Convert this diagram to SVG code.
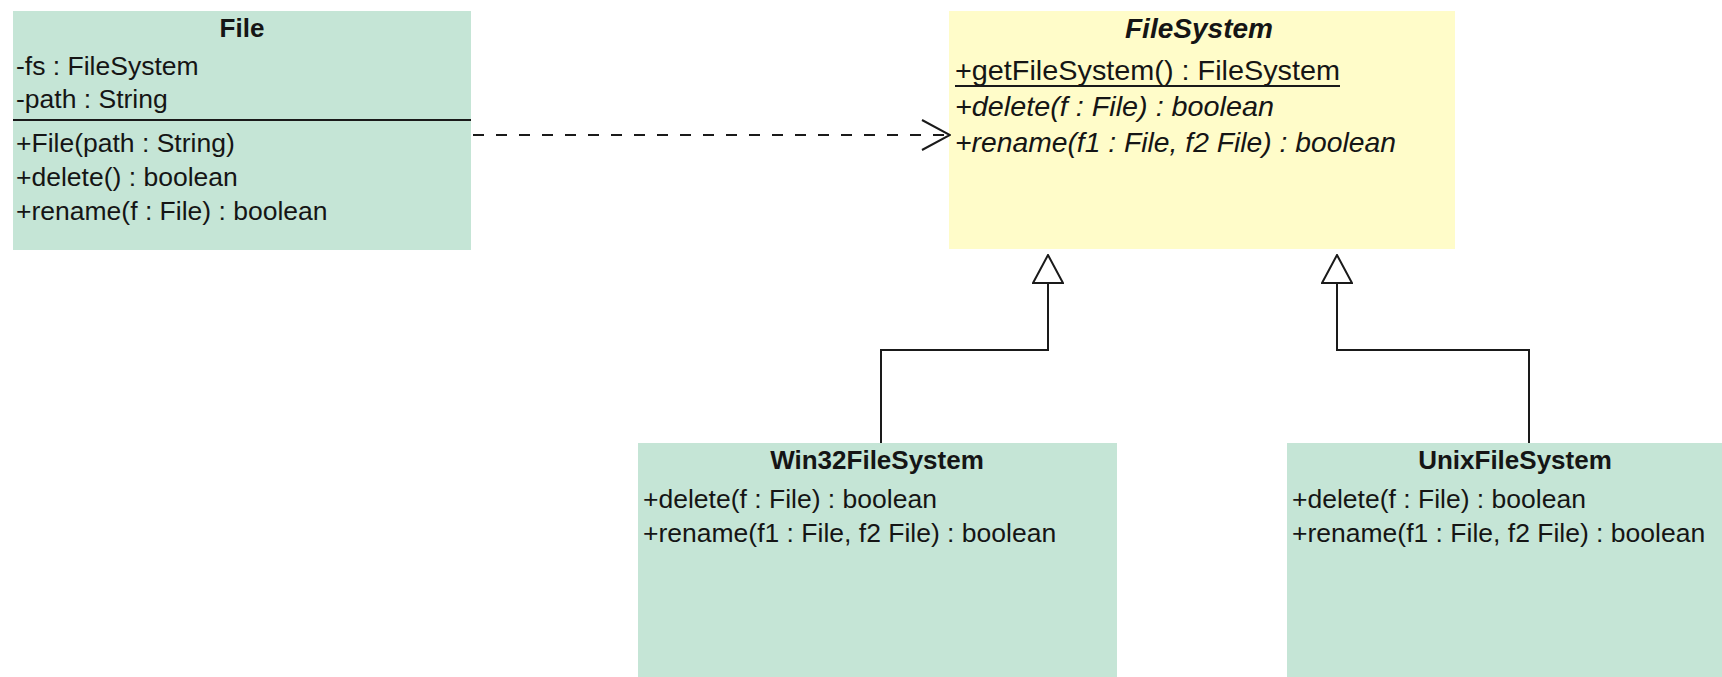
<svg xmlns="http://www.w3.org/2000/svg" width="1722" height="677" viewBox="0 0 1722 677">
  <style>
    .cls { fill: #c5e5d6; }
    .abs { fill: #fffcc9; }
    text { font-family: "Liberation Sans", Arial, sans-serif; fill: #151515; }
    .name { font-size: 26px; font-weight: bold; text-anchor: middle; }
    .member { font-size: 26.5px; }
    .aname { font-size: 28px; font-weight: bold; font-style: italic; text-anchor: middle; }
    .amember { font-size: 28px; }
    .italic { font-style: italic; }
    .edge { fill: none; stroke: #1a1a1a; stroke-width: 2; }
    .dep { stroke-dasharray: 11 12; }
  </style>
  <defs>
    <marker id="open-arrow" viewBox="0 0 30 32" refX="29" refY="16" markerWidth="30" markerHeight="32" markerUnits="userSpaceOnUse" orient="auto">
      <path d="M1,1 L29,16 L1,31" fill="none" stroke="#1a1a1a" stroke-width="2"/>
    </marker>
    <marker id="hollow-triangle" viewBox="0 0 34 32" refX="33" refY="16" markerWidth="34" markerHeight="32" markerUnits="userSpaceOnUse" orient="auto">
      <path d="M5,1 L33,16 L5,31 Z" fill="#ffffff" stroke="#1a1a1a" stroke-width="2"/>
    </marker>
  </defs>

  <!-- File class -->
  <g id="file">
    <rect class="cls" x="13" y="11" width="458" height="239"/>
    <text class="name" x="242" y="37">File</text>
    <text class="member" x="16" y="75">-fs : FileSystem</text>
    <text class="member" x="16" y="108">-path : String</text>
    <line x1="13" y1="120" x2="471" y2="120" stroke="#1a1a1a" stroke-width="2"/>
    <text class="member" x="16" y="152">+File(path : String)</text>
    <text class="member" x="16" y="186">+delete() : boolean</text>
    <text class="member" x="16" y="220">+rename(f : File) : boolean</text>
  </g>

  <!-- FileSystem abstract class -->
  <g id="filesystem">
    <rect class="abs" x="949" y="11" width="506" height="238"/>
    <text class="aname" x="1199" y="38" textLength="148" lengthAdjust="spacingAndGlyphs">FileSystem</text>
    <text class="amember" x="955" y="80" textLength="385" lengthAdjust="spacingAndGlyphs">+getFileSystem() : FileSystem</text>
    <line x1="955" y1="86" x2="1340" y2="86" stroke="#1a1a1a" stroke-width="2"/>
    <text class="amember italic" x="955" y="116" textLength="319" lengthAdjust="spacingAndGlyphs">+delete(f : File) : boolean</text>
    <text class="amember italic" x="955" y="152" textLength="441" lengthAdjust="spacingAndGlyphs">+rename(f1 : File, f2 File) : boolean</text>
  </g>

  <!-- Win32FileSystem class -->
  <g id="win32filesystem">
    <rect class="cls" x="638" y="443" width="479" height="250"/>
    <text class="name" x="877" y="469">Win32FileSystem</text>
    <text class="member" x="643" y="508">+delete(f : File) : boolean</text>
    <text class="member" x="643" y="542">+rename(f1 : File, f2 File) : boolean</text>
  </g>

  <!-- UnixFileSystem class -->
  <g id="unixfilesystem">
    <rect class="cls" x="1287" y="443" width="456" height="250"/>
    <text class="name" x="1515" y="469">UnixFileSystem</text>
    <text class="member" x="1292" y="508">+delete(f : File) : boolean</text>
    <text class="member" x="1292" y="542">+rename(f1 : File, f2 File) : boolean</text>
  </g>

  <!-- Connectors -->
  <g id="connectors">
    <path class="edge dep" d="M473,135 L950,135" marker-end="url(#open-arrow)"/>
    <path class="edge" d="M881,443 L881,350 L1048,350 L1048,255" marker-end="url(#hollow-triangle)"/>
    <path class="edge" d="M1529,443 L1529,350 L1337,350 L1337,255" marker-end="url(#hollow-triangle)"/>
  </g>
</svg>
